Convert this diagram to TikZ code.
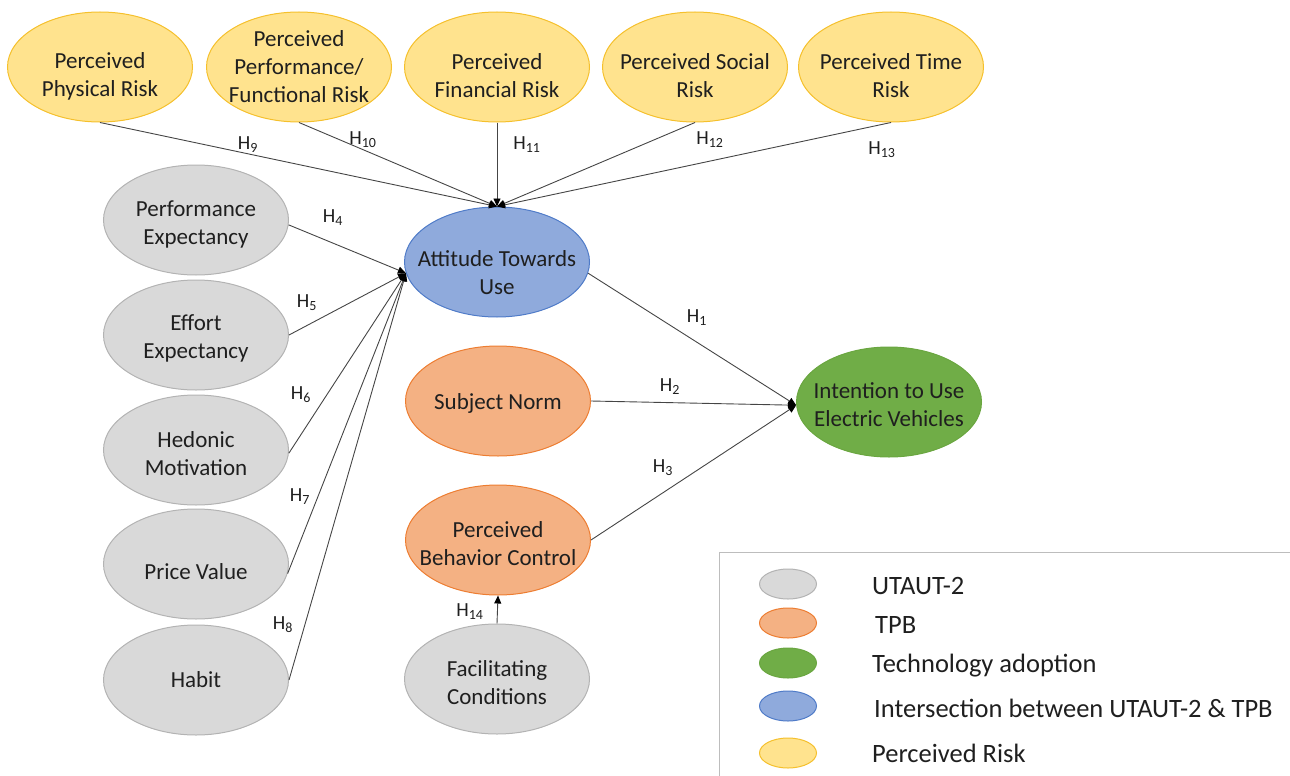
\documentclass[tikz,border=0pt]{standalone}
\usepackage{fontspec}
\setmainfont{Carlito}
\usetikzlibrary{arrows.meta,shapes.geometric}

\definecolor{riskfill}{HTML}{FFE38E}
\definecolor{riskline}{HTML}{F5C02C}
\definecolor{utfill}{HTML}{D9D9D9}
\definecolor{utline}{HTML}{B3B3B3}
\definecolor{tpbfill}{HTML}{F4B183}
\definecolor{tpbline}{HTML}{ED7D31}
\definecolor{attfill}{HTML}{8FAADC}
\definecolor{attline}{HTML}{4F7BC8}
\definecolor{techfill}{HTML}{70AD47}
\definecolor{techline}{HTML}{6AA640}
\definecolor{linkgrey}{HTML}{454545}
\definecolor{framegrey}{HTML}{BDBDBD}

\begin{document}
\begin{tikzpicture}[x=1pt,y=-1pt,
  % the ellipse keeps a fixed size; its caption is a label that can sit
  % a little below the centre (second argument)
  bubble/.style n args={2}{ellipse, draw, line width=1pt, minimum width=185pt,
    minimum height=110pt, inner sep=0pt,
    label={[caption,yshift=-#2pt]center:#1}},
  caption/.style={align=center, inner sep=0pt,
    font=\fontsize{23}{28}\selectfont, text=black!88},
  risk/.style n args={2}{bubble={#1}{#2}, fill=riskfill, draw=riskline},
  utaut/.style n args={2}{bubble={#1}{#2}, fill=utfill, draw=utline},
  tpb/.style n args={2}{bubble={#1}{#2}, fill=tpbfill, draw=tpbline},
  inter/.style n args={2}{bubble={#1}{#2}, fill=attfill, draw=attline},
  tech/.style n args={2}{bubble={#1}{#2}, fill=techfill, draw=techline},
  link/.style={draw=linkgrey, line width=0.9pt,
    -{Triangle[length=8pt,width=7pt,color=black]}},
  hyp/.style={inner sep=0pt, font=\fontsize{20}{22}\selectfont, text=black!88},
  keyshape/.style={ellipse, draw, line width=1pt, minimum width=57pt,
    minimum height=30pt, inner sep=0pt},
  keytext/.style={anchor=west, inner sep=0pt,
    font=\fontsize{26.5}{30}\selectfont, text=black!88},
]
\useasboundingbox (0,0) rectangle (1290,776);

% perceived risk constructs
\node[risk={Perceived\\Physical Risk}{9}] (phys) at (100,67) {};
\node[risk={Perceived\\Performance/\\Functional Risk}{0}] (perf) at (299,67) {};
\node[risk={Perceived\\Financial Risk}{9}] (fin) at (497,67) {};
\node[risk={Perceived Social\\Risk}{9}] (soc) at (695,67) {};
\node[risk={Perceived Time\\Risk}{9}] (time) at (891,67) {};

% UTAUT-2 constructs
\node[utaut={Performance\\Expectancy}{4}] (pe) at (196,220) {};
\node[utaut={Effort\\Expectancy}{3}] (ee) at (196,335) {};
\node[utaut={Hedonic\\Motivation}{4}] (hm) at (196,450) {};
\node[utaut={Price Value}{8}] (pv) at (196,564) {};
\node[utaut={Habit}{0}] (hab) at (196,680) {};
\node[utaut={Facilitating\\Conditions}{4}] (fc) at (497,679) {};

% attitude, TPB and outcome
\node[inter={Attitude Towards\\Use}{11}] (att) at (497,262) {};
\node[tpb={Subject Norm}{2}] (sn) at (498,401) {};
\node[tpb={Perceived\\Behavior Control}{4}] (pbc) at (498,540) {};
\node[tech={Intention to Use\\Electric Vehicles}{3}] (itu) at (889,402) {};

% risk paths
\draw[link] (phys.south) -- (att.north);
\draw[link] (perf.south) -- (att.north);
\draw[link] (fin.south)  -- (att.north);
\draw[link] (soc.south)  -- (att.north);
\draw[link] (time.south) -- (att.north);

% UTAUT-2 paths
\draw[link] (pe.-3)  -- (att.187);
\draw[link] (ee.east) -- (att.187);
\draw[link] (hm.-2)  -- (att.187);
\draw[link] (pv.-6)  -- (att.187);
\draw[link] (hab.east) -- (att.187);

% paths to intention
\draw[link] (att.-7)   -- (itu.182);
\draw[link] (sn.east)  -- (itu.182);
\draw[link] (pbc.east) -- (itu.182);
\draw[link] (fc.north) -- (pbc.south);

% hypothesis labels
\node[hyp] (h1)  at (697,318) {H\textsubscript{1}};
\node[hyp] (h2)  at (670,387) {H\textsubscript{2}};
\node[hyp] (h3)  at (663,468) {H\textsubscript{3}};
\node[hyp] (h4)  at (333,218) {H\textsubscript{4}};
\node[hyp] (h5)  at (307,303) {H\textsubscript{5}};
\node[hyp] (h6)  at (301,395) {H\textsubscript{6}};
\node[hyp] (h7)  at (300,497) {H\textsubscript{7}};
\node[hyp] (h8)  at (283,625) {H\textsubscript{8}};
\node[hyp] (h9)  at (248,145) {H\textsubscript{9}};
\node[hyp] (h10) at (363,140) {H\textsubscript{10}};
\node[hyp] (h11) at (527,145) {H\textsubscript{11}};
\node[hyp] (h12) at (710,140) {H\textsubscript{12}};
\node[hyp] (h13) at (882,150) {H\textsubscript{13}};
\node[hyp] (h14) at (470,612) {H\textsubscript{14}};

% legend
\coordinate (lgtr) at (1290,552);
\coordinate (lgtl) at (719,552);
\coordinate (lgbl) at (719,776);
\draw[framegrey, line width=1pt] (lgtr) -- (lgtl) -- (lgbl);
\node[keyshape, fill=utfill, draw=utline]     (k1) at (788,584) {};
\node[keyshape, fill=tpbfill, draw=tpbline]   (k2) at (788,623) {};
\node[keyshape, fill=techfill, draw=techline] (k3) at (788,663) {};
\node[keyshape, fill=attfill, draw=attline]   (k4) at (788,706) {};
\node[keyshape, fill=riskfill, draw=riskline] (k5) at (788,753) {};
\node[keytext] (t1) at (872,586) {UTAUT-2};
\node[keytext] (t2) at (875,625) {TPB};
\node[keytext] (t3) at (872,666) {Technology adoption};
\node[keytext] (t4) at (874,708) {Intersection between UTAUT-2 \& TPB};
\node[keytext] (t5) at (872,753) {Perceived Risk};
\end{tikzpicture}
\end{document}
